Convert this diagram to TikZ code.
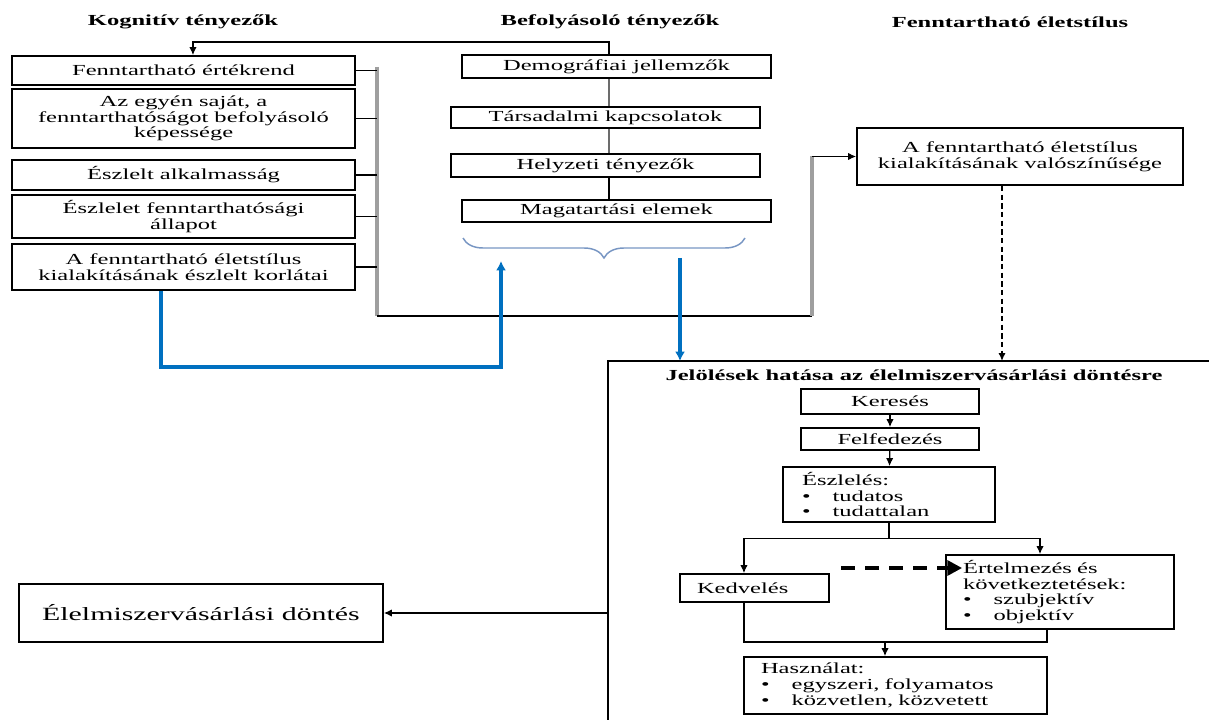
\documentclass[tikz,border=0pt]{standalone}
\usepackage{fontspec}
\setmainfont{Liberation Serif}[FakeStretch=1.6]
\usetikzlibrary{arrows.meta,decorations.pathreplacing}
\definecolor{arrowblue}{RGB}{0,112,192}
\definecolor{bracegray}{RGB}{120,150,195}

\begin{document}
\begin{tikzpicture}[x=0.75pt,y=-0.75pt,
    box/.style={draw,line width=1.3pt,inner sep=0pt,align=center,
      font=\fontsize{11.5}{11.8}\selectfont},
    listbox/.style={box,align=left},
    title/.style={font=\fontsize{11.5}{13}\selectfont\bfseries},
    conn/.style={line width=0.9pt},
    bus/.style={line width=3pt,gray!75},
    arr/.style={conn,-{Latex[length=6pt,width=5.5pt]}},
    dasharr/.style={line width=3pt,dash pattern=on 10.5pt off 7.5pt,
      -{Triangle[length=11pt,width=11pt]}},
    bluearr/.style={line width=3pt,arrowblue,-{Latex[length=7pt,width=7.5pt]}}]

  \useasboundingbox (0,0) rectangle (1209,720);

  % Draw the headings
  \node[title] (kog) at (183,22) {Kognitív tényezők};
  \node[title] (bef) at (610,22) {Befolyásoló tényezők};
  \node[title] (fen) at (1010,22) {Fenntartható életstílus};

  % Draw the cognitive factors
  \node[box,minimum width=257.25pt,minimum height=21.75pt] (fe) at (183.5,70.5) {Fenntartható értékrend};
  \node[box,minimum width=257.25pt,minimum height=44.25pt] (ke) at (183.5,118.5)
    {Az egyén saját, a\\ fenntarthatóságot befolyásoló\\ képessége};
  \node[box,minimum width=257.25pt,minimum height=22.5pt] (ea) at (183.5,175) {Észlelt alkalmasság};
  \node[box,minimum width=257.25pt,minimum height=32.25pt] (ef) at (183.5,216.5)
    {Észlelet fenntarthatósági\\ állapot};
  \node[box,minimum width=257.25pt,minimum height=34.5pt] (ko) at (183.5,267)
    {A fenntartható életstílus\\ kialakításának észlelt korlátai};

  % Draw the influencing factors
  \node[box,minimum width=231.75pt,minimum height=17.25pt] (dem) at (616.5,66.5) {Demográfiai jellemzők};
  \node[box,minimum width=231.75pt,minimum height=15.75pt] (tar) at (605.5,117.5) {Társadalmi kapcsolatok};
  \node[box,minimum width=231.75pt,minimum height=17.25pt] (hel) at (605.5,165.5) {Helyzeti tényezők};
  \node[box,minimum width=231.75pt,minimum height=16.5pt] (mag) at (616.5,211) {Magatartási elemek};

  \coordinate (mx) at (609,0);
  \draw[bus,line width=2pt,gray!85!black] (dem.south -| mx) -- (tar.north -| mx);
  \draw[bus,line width=2pt,gray!85!black] (tar.south -| mx) -- (hel.north -| mx);
  \draw[conn] (hel.south -| mx) -- (mag.north -| mx);

  % Feedback to the value system
  \coordinate (fb) at (609,42);
  \draw[arr] (dem.north -| mx) -- (fb) -| ([xshift=7.1pt]fe.north);

  % Brace under the influencing factors
  \draw[bracegray,line width=1.1pt,decorate,decoration={brace,amplitude=15pt,mirror}]
    (463,238) -- (745,238);

  % Sustainable lifestyle
  \node[box,minimum width=244.5pt,minimum height=42.75pt] (rb) at (1020,156.5)
    {A fenntartható életstílus\\ kialakításának valószínűsége};

  % Gray bus from the cognitive factors
  \coordinate (bx) at (377,0);
  \coordinate (bustop) at (377,67);
  \coordinate (busbot) at (377,316);
  \coordinate (rbus) at (812,316);
  \draw[bus] (bustop) -- (busbot);
  \foreach \b in {fe,ke,ea,ef,ko}
    \draw[conn] (\b.east) -- (\b.east -| bx);
  \draw[conn] (busbot) -- (rbus);
  \draw[bus] (rbus) -- (rbus |- rb.west);
  \draw[arr] (rbus |- rb.west) -- (rb.west);

  % Label effect frame
  \coordinate (bbox) at (608,361);
  \draw[line width=1.3pt] (1209,361) -| (608,720);
  \node[title] (jel) at (914,375) {Jelölések hatása az élelmiszervásárlási döntésre};
  \draw[arr,dashed,line width=1.6pt,dash pattern=on 4pt off 2.5pt]
    ([xshift=-13.5pt]rb.south) -- ([xshift=-13.5pt]rb.south |- bbox);

  % Blue arrows
  \coordinate (bl) at (501,367);
  \coordinate (bup) at (501,261);
  \coordinate (bdown) at (680,258);
  \draw[bluearr] ([xshift=-17pt]ko.south) |- (bl) -- (bup);
  \draw[bluearr] (bdown) -- (bdown |- bbox);

  % Draw the steps inside the frame
  \node[box,minimum width=133.5pt,minimum height=18.75pt] (ker) at (890,401.5) {Keresés};
  \node[box,minimum width=133.5pt,minimum height=16.5pt] (fel) at (890,439) {Felfedezés};
  \node[listbox,minimum width=159pt,minimum height=41.25pt,text width=130.5pt] (esz) at (889,494.5)
    {Észlelés:\\ \makebox[23pt][l]{\textbullet}tudatos\\ \makebox[23pt][l]{\textbullet}tudattalan};
  \node[listbox,minimum width=111.75pt,minimum height=21pt,text width=86.25pt] (ked) at (754.5,588) {Kedvelés};
  \node[listbox,minimum width=171pt,minimum height=55.5pt,text width=145.5pt] (ert) at (1060,592)
    {Értelmezés és\\ következtetések:\\ \makebox[23pt][l]{\textbullet}szubjektív\\ \makebox[23pt][l]{\textbullet}objektív};
  \node[listbox,minimum width=227.25pt,minimum height=42.75pt,text width=201.75pt] (has) at (895.5,685.5)
    {Használat:\\ \makebox[23pt][l]{\textbullet}egyszeri, folyamatos\\ \makebox[23pt][l]{\textbullet}közvetlen, közvetett};

  \draw[arr] (ker) -- (fel);
  \draw[arr] (fel) -- (esz);
  \draw[arr] (esz.south) -- ++(0,16) -| ([xshift=-7.9pt]ked.north);
  \draw[arr] (esz.south) -- ++(0,16) -| ([xshift=-15pt]ert.north);

  \coordinate (mrg) at (885,642);
  \draw[conn] ([xshift=-7.9pt]ked.south) |- (mrg) -| ([xshift=-9.75pt]ert.south);
  \draw[arr] (mrg) -- (has.north -| mrg);

  \coordinate (dsh) at (841,568);
  \draw[dasharr] (dsh) -- ([xshift=12.75pt]ert.west |- dsh);

  % Food purchase decision
  \node[box,minimum width=273pt,minimum height=43.5pt,font=\fontsize{14}{16}\selectfont] (dont) at (201,613)
    {Élelmiszervásárlási döntés};
  \draw[arr] (bbox |- dont.east) -- (dont.east);
\end{tikzpicture}
\end{document}
